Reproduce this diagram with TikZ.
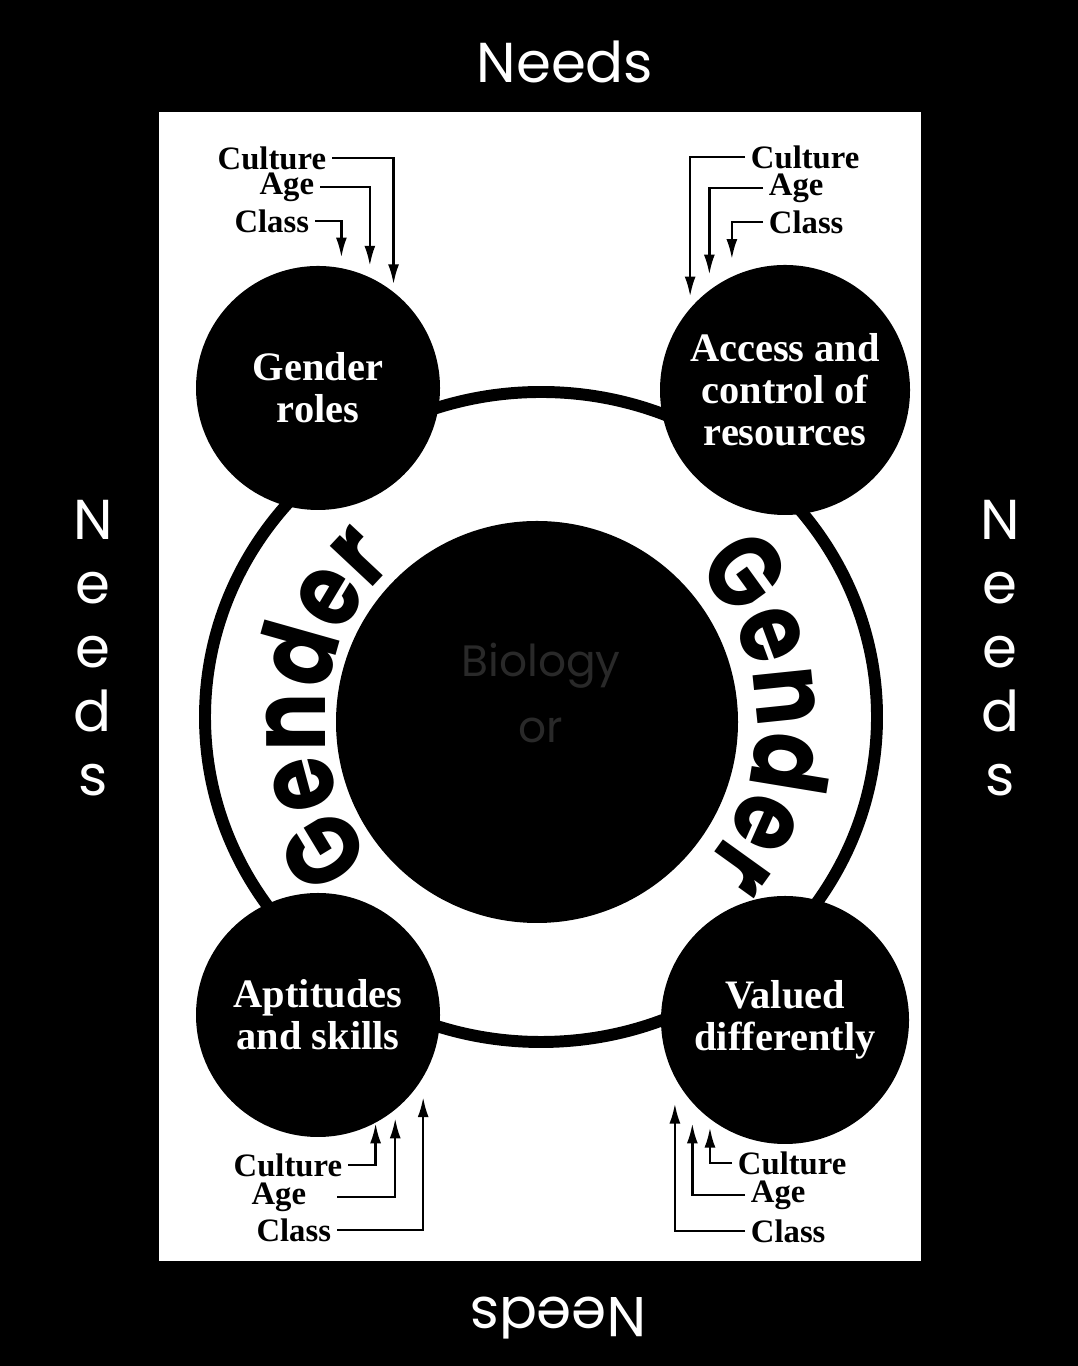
\documentclass[tikz,border=0pt]{standalone}
\usepackage{fontspec}
\setmainfont{Liberation Serif}
\newfontfamily\needsfont{Poppins}
\newfontfamily\genderfont{Poppins}[FakeStretch=0.82]
\usetikzlibrary{arrows.meta,decorations.text}

\newcommand{\gendertype}{\genderfont\bfseries\fontsize{30}{30}\selectfont}

\tikzset{
  topic/.style={circle, fill=black, inner sep=0pt, text=white, align=center,
    font={\fontsize{11.5}{12}\selectfont\bfseries}},
  factor/.style={inner sep=1.5pt, font={\fontsize{9.3}{9.3}\selectfont\bfseries}},
  feed/.style={line width=.7pt, -{Latex[length=2mm,width=1.1mm]}},
  needs/.style={text=white, align=center, inner sep=0pt,
    font={\needsfont\fontsize{16}{18.2}\selectfont}}
}

\begin{document}
\begin{tikzpicture}

\fill [black] (0,0) rectangle (10.78,13.66);
\useasboundingbox (0,0) rectangle (10.78,13.66);

\node [fill=white, minimum width=7.62cm, minimum height=11.49cm,
anchor = south west, inner sep=0pt] (panel) at (1.58,1.04) {};


\node [needs] (needs-top) at (5.65,13.04) {Needs};
\node [needs] (needs-left) at (0.93,7.18) {N\\e\\e\\d\\s};
\node [needs] (needs-right) at (10.00,7.18) {N\\e\\e\\d\\s};
\node [needs, rotate=180] (needs-bottom) at (5.58,0.48) {Needs};


% the gender ring
\draw [line width=3.4pt] (5.41,6.49) ellipse [x radius=3.36, y radius=3.25];

\node [circle, fill=black, minimum size=4.02cm, inner sep=0pt] (biology) at (5.37,6.44) {};
\node [text=black!84, align=center, font={\needsfont\fontsize{12.5}{19}\selectfont}]
(biology-text) at (5.41,6.73) {Biology\\or};

\path [decorate, decoration={text along path, text align=center,
text={|\gendertype|Gender}}]
([shift={(230:2.12)}]biology.center) arc [start angle=230, end angle=122, radius=2.12];

\path [decorate, decoration={text along path, text align=center,
text={|\gendertype|Gender}}]
([shift={(58:2.2)}]biology.center) arc [start angle=58, end angle=-54, radius=2.2];


\node [topic, minimum size=2.44cm] (roles) at (3.18,9.78) {Gender\\roles};
\node [topic, minimum size=2.50cm] (resources) at (7.85,9.76) {Access and\\control of\\resources};
\node [topic, minimum size=2.44cm] (skills) at (3.18,3.51) {Aptitudes\\and skills};
\node [topic, minimum size=2.48cm] (valued) at (7.85,3.46) {Valued\\differently};


% top left
\node [factor, anchor = east] (roles-culture) at (3.32,12.08) {Culture};
\node [factor, anchor = east] (roles-age) at (3.20,11.79) {Age};
\node [factor, anchor = east] (roles-class) at (3.15,11.45) {Class};

\draw [feed, shorten >=0.07cm] (roles-culture.east) -| (roles.52);
\draw [feed, shorten >=0.11cm] (roles-age.east) -| (roles.65);
\draw [feed, shorten >=0.10cm] (roles-class.east) -| (roles.79);

% top right
\node [factor, anchor = west] (resources-culture) at (7.45,12.09) {Culture};
\node [factor, anchor = west] (resources-age) at (7.63,11.78) {Age};
\node [factor, anchor = west] (resources-class) at (7.63,11.44) {Class};

\draw [feed, shorten >=0.11cm] (resources-culture.west) -| (resources.139.5);
\draw [feed, shorten >=0.15cm] (resources-age.west) -| (resources.127);
\draw [feed, shorten >=0.17cm] (resources-class.west) -| (resources.115);

% bottom left
\node [factor, anchor = east] (skills-culture) at (3.48,2.01) {Culture};
\node [factor, anchor = east] (skills-age) at (3.12,1.69) {Age};
\node [factor, anchor = east] (skills-class) at (3.37,1.36) {Class};

\draw [feed] (skills-culture.east) -| (skills.-62);
\draw [feed, shorten >=0.08cm] ([xshift=0.25cm]skills-age.east) -| (skills.-51);
\draw [feed, shorten >=0.19cm] (skills-class.east) -| (skills.-31.6);

% bottom right
\node [factor, anchor = west] (valued-culture) at (7.32,2.03) {Culture};
\node [factor, anchor = west] (valued-age) at (7.45,1.71) {Age};
\node [factor, anchor = west] (valued-class) at (7.45,1.35) {Class};

\draw [feed, shorten >=0.08cm] (valued-culture.west) -| (valued.-127);
\draw [feed, shorten >=0.20cm] (valued-age.west) -| (valued.-138.6);
\draw [feed, shorten >=0.25cm] (valued-class.west) -| (valued.-152.5);

\end{tikzpicture}
\end{document}
